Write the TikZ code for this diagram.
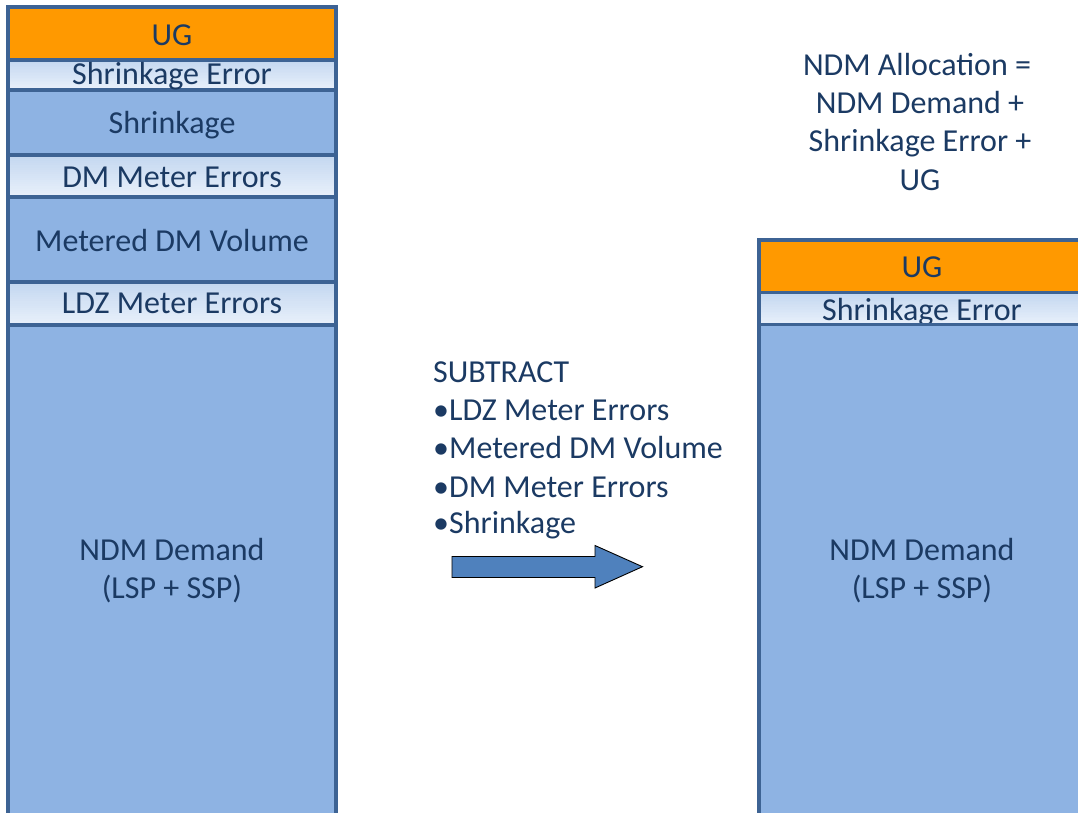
\documentclass[tikz,border=0pt]{standalone}
\usepackage{fontspec}
\setmainfont{Carlito}
\definecolor{ugorange}{HTML}{FF9900}
\definecolor{midblue}{HTML}{8EB3E3}
\definecolor{paleTop}{HTML}{C3D7F0}
\definecolor{paleBot}{HTML}{EAF1FB}
\definecolor{edge}{HTML}{3D6394}
\definecolor{ink}{HTML}{1B3A63}
\definecolor{arrowfill}{HTML}{4F81BD}
% pale band as a vertical gradient built from thin strips (bluish top, whitish bottom)
\newcommand\palestrip[4]{%
  \foreach \i in {0,...,19}{%
    \pgfmathsetmacro\pct{\i*5}%
    \pgfmathsetmacro\ya{#3+(#4-#3)*\i/20}%
    \pgfmathsetmacro\yb{#3+(#4-#3)*(\i+1)/20+0.4}%
    \fill[paleBot!\pct!paleTop] (#1,\ya) rectangle (#2,\yb);
  }}
\begin{document}
\begin{tikzpicture}[x=1pt,y=-1pt,
  lbl/.style={inner sep=0pt, anchor=base, text=ink, font=\fontsize{32}{38}\selectfont},
  lbll/.style={lbl, anchor=base west},
  ugband/.style={fill=ugorange},
  midband/.style={fill=midblue},
  sep/.style={draw=edge, line width=3.3pt},
  frame/.style={draw=edge, line width=3.5pt},
  bigarrow/.style={fill=arrowfill, draw=black, line width=0.9pt, line join=miter}]
\useasboundingbox (0,0) rectangle (1078,813);
\clip (0,0) rectangle (1078,813);

% ---- left column: full balance stack ----
\fill[ugband]   (8,7)   rectangle (336,60);
\palestrip{8}{336}{60}{90}
\fill[midband]  (8,90)  rectangle (336,155);
\palestrip{8}{336}{155}{197}
\fill[midband]  (8,197) rectangle (336,282);
\palestrip{8}{336}{282}{325}
\fill[midband]  (8,325) rectangle (336,830);
\foreach \yy in {60,90,155,197,282,325}
  \draw[sep] (8,\yy) -- (336,\yy);
\draw[frame] (8,830) -- (8,7) -- (336,7) -- (336,830);

% ---- right column: allocation stack ----
\fill[ugband]   (759,240)   rectangle (1090,292.5);
\palestrip{759}{1090}{292.5}{324.5}
\fill[midband]  (759,324.5) rectangle (1090,830);

\node[lbl] (rug) at (922,277) {UG};
\node[lbl] (rse) at (922,320.5) {Shrinkage Error};

\foreach \yy in {292.5,324.5}
  \draw[sep] (759,\yy) -- (1090,\yy);
\draw[frame] (759,830) -- (759,240) -- (1090,240);

% ---- left column labels ----
\node[lbl] (lug)  at (172,45.5)  {UG};
\node[lbl] (lse)  at (172,84.5)  {Shrinkage Error};
\node[lbl] (lsh)  at (172,133.5) {Shrinkage};
\node[lbl] (ldm)  at (172,187.5) {DM Meter Errors};
\node[lbl] (lmv)  at (172,251) {Metered DM Volume};
\node[lbl] (lldz) at (172,313.5) {LDZ Meter Errors};
\node[lbl] (lndm) at (172,560.5) {NDM Demand};
\node[lbl] (lssp) at (172,598.5) {(LSP + SSP)};

% ---- right column labels ----
\node[lbl] (rndm) at (922,560.5) {NDM Demand};
\node[lbl] (rssp) at (922,598.5) {(LSP + SSP)};

% ---- allocation formula ----
\node[lbl] (f1) at (917,75.5)  {NDM Allocation =};
\node[lbl] (f2) at (920,113.5) {NDM Demand +};
\node[lbl] (f3) at (920,152)   {Shrinkage Error +};
\node[lbl] (f4) at (920,190.5) {UG};

% ---- subtraction list ----
\node[lbll] (s0) at (433,382)   {SUBTRACT};
\node[lbll] (s1) at (433,420.5) {•LDZ Meter Errors};
\node[lbll] (s2) at (433,458.5) {•Metered DM Volume};
\node[lbll] (s3) at (433,497)   {•DM Meter Errors};
\node[lbll] (s4) at (433,533.5) {•Shrinkage};

% ---- block arrow ----
\draw[bigarrow] (452,556.5) -- (595,556.5) -- (595,545.5) -- (642.5,566.7)
  -- (595,588) -- (595,577.5) -- (452,577.5) -- cycle;
\end{tikzpicture}
\end{document}
